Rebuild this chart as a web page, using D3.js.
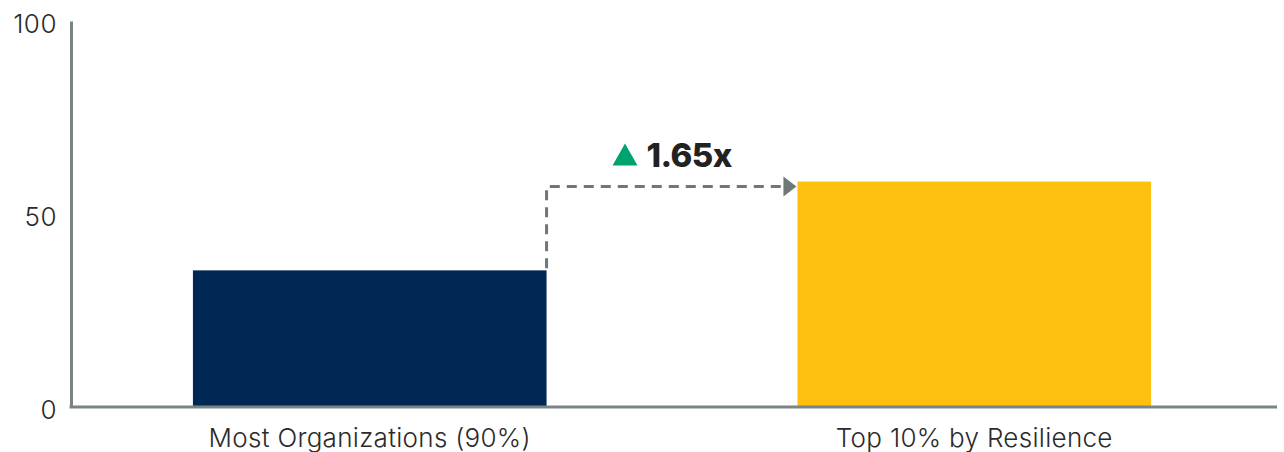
<!DOCTYPE html>
<html><head><meta charset="utf-8">
<script src="https://cdn.jsdelivr.net/npm/d3@7"></script>
<style>body{margin:0;background:#fff}</style>
</head><body>
<svg id="c" width="1284" height="452"></svg>
<script>
const categories = ["Most Organizations (90%)", "Top 10% by Resilience"];
const values = [35.4, 58.4];
const colors = ["#002855", "#fdc010"];
const yTicks = [0, 50, 100];
const multiplierLabel = "1.65x";

const svg = d3.select("#c");
const x0 = 71, x1 = 1277, yBase = 407, yTop = 21;
const x = d3.scaleBand().domain(categories).range([x0 - 2, x1 - 2]).paddingInner(0.415).paddingOuter(0.205);
const y = d3.scaleLinear().domain([0, 100]).range([yBase, yTop]);
const font = "Inter, 'Noto Sans', sans-serif";

// bars
svg.selectAll("rect.bar").data(categories).enter().append("rect")
  .attr("x", d => x(d)).attr("width", x.bandwidth())
  .attr("y", (d, i) => y(values[i])).attr("height", (d, i) => yBase - y(values[i]))
  .attr("fill", (d, i) => colors[i]);

// y axis
const yAxis = svg.append("g").attr("transform", `translate(${x0},0)`)
  .call(d3.axisLeft(y).tickValues(yTicks).tickSize(0).tickPadding(14));
yAxis.select(".domain").attr("stroke", "#7a8583").attr("stroke-width", 3);
yAxis.selectAll("text").attr("font-family", font).attr("font-size", 26).attr("font-weight", 300)
  .attr("letter-spacing", "0.5").attr("fill", "#2b2b2b").attr("dy", "0.45em");

// x axis
const xAxis = svg.append("g").attr("transform", `translate(0,${yBase})`)
  .call(d3.axisBottom(x).tickSize(0).tickPadding(22));
xAxis.select(".domain").attr("stroke", "#7a8583").attr("stroke-width", 3).attr("d", `M${x0 - 1.5},0H${x1}`);
xAxis.selectAll("text").attr("font-family", font).attr("font-size", 26).attr("font-weight", 300)
  .attr("letter-spacing", "0.3").attr("fill", "#2b2b2b");

// annotation
const ax = x(categories[0]) + x.bandwidth();
const ay = y(values[1]) + 5;
const bx = x(categories[1]) - 1;
svg.append("path")
  .attr("d", `M${ax},${y(values[0]) - 2}V${ay}H${bx - 12}`)
  .attr("fill", "none").attr("stroke", "#6d7877").attr("stroke-width", 3)
  .attr("stroke-dasharray", "10,7");
svg.append("path")
  .attr("d", `M${bx - 13},${ay - 10}L${bx},${ay}L${bx - 13},${ay + 10}Z`)
  .attr("fill", "#6d7877");

const tx = (ax + bx) / 2;
svg.append("path")
  .attr("d", `M${tx - 59},${ay - 21}L${tx - 46.5},${ay - 43}L${tx - 34},${ay - 21}Z`)
  .attr("fill", "#00a36f");
svg.append("text").attr("x", tx - 25).attr("y", ay - 20)
  .attr("font-family", font).attr("font-size", 33).attr("font-weight", 800)
  .attr("letter-spacing", "-0.6").attr("fill", "#222").text(multiplierLabel);
</script>
</body></html>
